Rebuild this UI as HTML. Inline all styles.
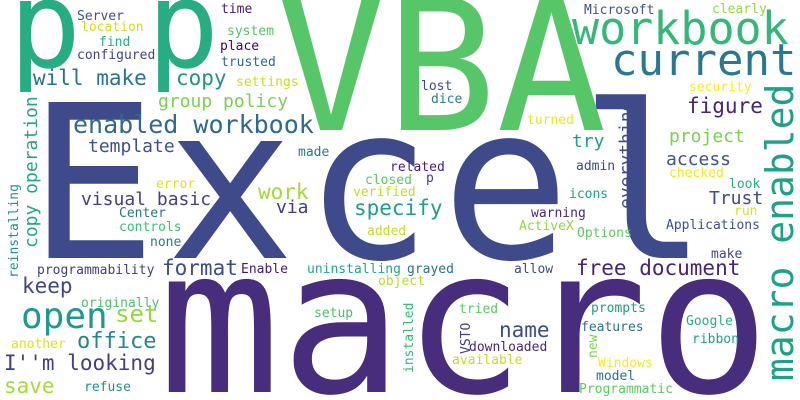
<!DOCTYPE html>
<html><head><meta charset="utf-8">
<style>
html,body{margin:0;padding:0;background:#fff;overflow:hidden;}
svg{display:block;}
text{font-family:"DejaVu Sans Mono","Liberation Mono",monospace;}
</style></head>
<body>
<svg width="800" height="400" viewBox="0 0 800 400">
<rect width="800" height="400" fill="#fff"/>
<text x="28" y="258" font-size="214" textLength="680" lengthAdjust="spacing" fill="#3f4a8a">Excel</text>
<text x="158" y="392" font-size="202" textLength="612" lengthAdjust="spacingAndGlyphs" fill="#472d7b">macro</text>
<text x="276" y="130" font-size="183" fill="#57c668">VBA</text>
<text x="9" y="67" font-size="120" fill="#27ad81">p</text>
<text x="147" y="67" font-size="120" fill="#27ad81">p</text>
<text transform="translate(793,381) rotate(-90)" font-size="38" fill="#1fa187">macro enabled</text>
<text x="572" y="44" font-size="45" fill="#35b779">workbook</text>
<text x="611" y="75" font-size="44" fill="#2a788e">current</text>
<text x="33" y="85" font-size="21" fill="#2c728e">will make</text>
<text x="176" y="85" font-size="21" fill="#21918c">copy</text>
<text x="158" y="107" font-size="18" fill="#7ad151">group policy</text>
<text x="73" y="133" font-size="25" fill="#31688e">enabled workbook</text>
<text x="88" y="152" font-size="18" fill="#3b528b">template</text>
<text x="221" y="13" font-size="13" fill="#481a6c">time</text>
<text x="77" y="20" font-size="13" fill="#3b528b">Server</text>
<text x="81" y="31" font-size="13" fill="#d0e11c">location</text>
<text x="99" y="46" font-size="13" fill="#29af7f">find</text>
<text x="77" y="59" font-size="13" fill="#414487">configured</text>
<text x="227" y="35" font-size="13" fill="#54c568">system</text>
<text x="220" y="50" font-size="13" fill="#440154">place</text>
<text x="221" y="66" font-size="13" fill="#31688e">trusted</text>
<text x="236" y="86" font-size="13" fill="#c8e020">settings</text>
<text x="298" y="156" font-size="13" fill="#2a788e">made</text>
<text x="156" y="188" font-size="13" fill="#dde318">error</text>
<text transform="translate(37,248) rotate(-90)" font-size="18" fill="#25a584">copy operation</text>
<text transform="translate(18,278) rotate(-90)" font-size="13" fill="#21918c">reinstalling</text>
<text x="81" y="205" font-size="18" fill="#433e85">visual basic</text>
<text x="258" y="199" font-size="21" fill="#a0da39">work</text>
<text x="119" y="217" font-size="13" fill="#2c728e">Center</text>
<text x="119" y="231" font-size="13" fill="#3dbc74">controls</text>
<text x="150" y="246" font-size="13" fill="#2a788e">none</text>
<text x="276" y="213" font-size="18" fill="#443983">via</text>
<text x="354" y="215" font-size="21" fill="#1f9e89">specify</text>
<text x="367" y="235" font-size="13" fill="#c2df23">added</text>
<text x="390" y="171" font-size="13" fill="#481f70">related</text>
<text x="365" y="184" font-size="13" fill="#5ac864">closed</text>
<text x="426" y="182" font-size="13" fill="#433e85">p</text>
<text x="353" y="196" font-size="13" fill="#bddf26">verified</text>
<text x="421" y="90" font-size="13" fill="#3e4989">lost</text>
<text x="431" y="103" font-size="13" fill="#287d8e">dice</text>
<text x="584" y="14" font-size="13" fill="#3b528b">Microsoft</text>
<text x="712" y="13" font-size="13" fill="#95d840">clearly</text>
<text x="689" y="91" font-size="13" fill="#fde725">security</text>
<text x="687" y="113" font-size="21" fill="#482475">figure</text>
<text x="527" y="124" font-size="13" fill="#f1e51d">turned</text>
<text transform="translate(632,209) rotate(-90)" font-size="18" fill="#3e4c8a">everything</text>
<text x="572" y="147" font-size="18" fill="#1f9e89">try</text>
<text x="669" y="142" font-size="18" fill="#7ad151">project</text>
<text x="666" y="165" font-size="18" fill="#3b528b">access</text>
<text x="576" y="170" font-size="13" fill="#3e4a89">admin</text>
<text x="669" y="177" font-size="13" fill="#f4e61e">checked</text>
<text x="729" y="188" font-size="13" fill="#27ad81">look</text>
<text x="569" y="198" font-size="13" fill="#1f9e89">icons</text>
<text x="709" y="204" font-size="18" fill="#3e4989">Trust</text>
<text x="734" y="215" font-size="13" fill="#dae319">run</text>
<text x="531" y="217" font-size="13" fill="#482878">warning</text>
<text x="519" y="230" font-size="13" fill="#8fd744">ActiveX</text>
<text x="577" y="237" font-size="13" fill="#5ec962">Options</text>
<text x="666" y="229" font-size="13" fill="#3b528b">Applications</text>
<text x="711" y="258" font-size="13" fill="#3e4a89">make</text>
<text x="576" y="275" font-size="21" fill="#482475">free document</text>
<text x="514" y="273" font-size="13" fill="#3e4c8a">allow</text>
<text x="307" y="273" font-size="13" fill="#22a884">uninstalling</text>
<text x="407" y="273" font-size="13" fill="#2c718e">grayed</text>
<text x="378" y="285" font-size="13" fill="#b5de2b">object</text>
<text x="241" y="273" font-size="13" fill="#481a6c">Enable</text>
<text x="162" y="275" font-size="21" fill="#3e4a89">format</text>
<text x="37" y="274" font-size="13" fill="#433e85">programmability</text>
<text x="22" y="293" font-size="21" fill="#414487">keep</text>
<text x="81" y="307" font-size="13" fill="#4ac16d">originally</text>
<text x="21" y="328" font-size="36" fill="#1f9a8a">open</text>
<text x="115" y="322" font-size="24" fill="#95d840">set</text>
<text x="314" y="317" font-size="13" fill="#4ac16d">setup</text>
<text x="11" y="348" font-size="13" fill="#dde318">another</text>
<text x="77" y="348" font-size="22" fill="#25848e">office</text>
<text x="4" y="370" font-size="21" fill="#433e85">I''m looking</text>
<text x="4" y="393" font-size="21" fill="#a5db36">save</text>
<text x="84" y="391" font-size="13" fill="#21918c">refuse</text>
<text x="459" y="313" font-size="13" fill="#5ec962">tried</text>
<text x="591" y="312" font-size="13" fill="#1f9e89">prompts</text>
<text x="499" y="337" font-size="21" fill="#3e4a89">name</text>
<text x="581" y="331" font-size="13" fill="#2c728e">features</text>
<text x="686" y="325" font-size="13" fill="#29af7f">Google</text>
<text x="692" y="343" font-size="13" fill="#1f9e89">ribbon</text>
<text transform="translate(470,354) rotate(-90)" font-size="13" fill="#433e85">VSTO</text>
<text x="469" y="351" font-size="13" fill="#482878">downloaded</text>
<text x="452" y="364" font-size="13" fill="#c2df23">available</text>
<text transform="translate(413,373) rotate(-90)" font-size="13" fill="#35b779">installed</text>
<text transform="translate(597,358) rotate(-90)" font-size="13" fill="#7ad151">new</text>
<text x="598" y="367" font-size="13" fill="#fde725">Windows</text>
<text x="596" y="380" font-size="13" fill="#2c728e">model</text>
<text x="579" y="393" font-size="13" fill="#5ec962">Programmatic</text>
</svg>
</body></html>
